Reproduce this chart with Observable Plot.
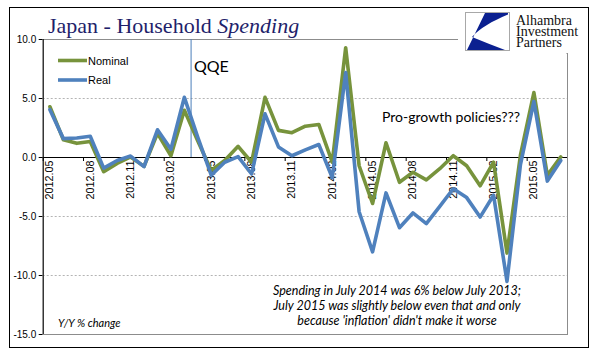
<!DOCTYPE html>
<html><head><meta charset="utf-8">
<script src="https://cdn.jsdelivr.net/npm/d3@7"></script>
<script src="https://cdn.jsdelivr.net/npm/@observablehq/plot@0.6"></script>
<style>
body{margin:0;background:#fff}
#wrap{position:relative;width:596px;height:357px;overflow:hidden;background:#fff}
#chart,#over{position:absolute;left:0;top:0}
#border{position:absolute;left:9px;top:7px;width:578px;height:339px;border:1.5px solid #000;pointer-events:none}
</style></head><body>
<div id="wrap"><div id="chart"></div><svg id="over" width="596" height="357"></svg><div id="border"></div></div>
<script>
const months = ["2012.05","2012.06","2012.07","2012.08","2012.09","2012.10","2012.11","2012.12",
"2013.01","2013.02","2013.03","2013.04","2013.05","2013.06","2013.07","2013.08","2013.09","2013.10","2013.11","2013.12",
"2014.01","2014.02","2014.03","2014.04","2014.05","2014.06","2014.07","2014.08","2014.09","2014.10","2014.11","2014.12",
"2015.01","2015.02","2015.03","2015.04","2015.05","2015.06","2015.07"];
const nominal = [4.3,1.5,1.2,1.35,-1.2,-0.5,0.05,-0.75,2.05,0.15,4.0,1.4,-1.1,-0.25,0.95,-0.4,5.1,2.3,2.1,2.65,
2.8,-0.4,9.3,-0.7,-3.9,1.25,-2.1,-1.25,-1.9,-0.95,0.15,-0.7,-2.4,-0.4,-8.1,0.2,5.5,-1.5,0.05];
const real = [4.05,1.6,1.65,1.8,-0.9,-0.25,0.12,-0.77,2.35,0.7,5.1,1.7,-1.5,-0.4,0.08,-1.4,3.7,0.9,0.15,0.65,
1.1,-1.7,7.2,-4.6,-8.0,-3.0,-5.95,-4.7,-5.6,-4.15,-2.65,-3.4,-5.05,-3.2,-10.5,-0.6,4.75,-2.0,-0.25];
const yTicks = [10,5,0,-5,-10,-15];
const gridLines = [5,-5,-10];
const qqeMonth = "2013.04";
const seriesNames = ["Nominal","Real"];
const colors = {Nominal:"#77933c", Real:"#4f81bd"};

const rows = months.map((m,i)=>({i, m, nominal:nominal[i], real:real[i]}));
const labelIdx = months.map((m,i)=>i).filter(i=>i%3===0);
const qqeAt = months.indexOf(qqeMonth) - 0.5;

const chart = Plot.plot({
  width:596, height:357,
  marginLeft:42.7, marginRight:29, marginTop:39, marginBottom:23,
  x:{type:"linear", domain:[-0.5, months.length-0.5], axis:null},
  y:{domain:[-15,10], ticks:yTicks, tickFormat:d=>d.toFixed(1), tickSize:4, tickPadding:3, label:null},
  style:{fontFamily:"'Liberation Sans', Arial, sans-serif", fontSize:"10px", background:"transparent", color:"#000"},
  marks:[
    Plot.frame({stroke:"#8c8c8c"}),
    Plot.ruleY(gridLines, {stroke:"#b4b4b4", strokeDasharray:"2,2"}),
    Plot.ruleX([qqeAt], {y1:0, y2:10, stroke:"#4a7ebb", strokeWidth:1}),
    Plot.ruleY([0], {stroke:"#000"}),
    Plot.ruleX([-0.5], {stroke:"#000"}),
    Plot.ruleX(labelIdx, {x:d=>d-0.5, y1:0, y2:-0.34, stroke:"#000"}),
    Plot.text(labelIdx, {x:d=>d, y:0, text:d=>months[d], rotate:-90, textAnchor:"end", dy:3, fontSize:10.8, fill:"#000"}),
    Plot.line(rows, {x:"i", y:"nominal", stroke:colors.Nominal, strokeWidth:3.6, strokeLinejoin:"round"}),
    Plot.line(rows, {x:"i", y:"real", stroke:colors.Real, strokeWidth:3.6, strokeLinejoin:"round"})
  ]
});
document.getElementById("chart").appendChild(chart);

const o = d3.select("#over");
const t = o.append("text").attr("x",48).attr("y",33).attr("font-family","'Liberation Serif', 'Times New Roman', serif")
  .attr("font-size",22).attr("fill","#1f1f6b");
t.append("tspan").text("Japan - Household ");
t.append("tspan").attr("font-style","italic").text("Spending");
seriesNames.forEach((s,k)=>{
  const y = 60.5 + k*19.5;
  o.append("line").attr("x1",58).attr("x2",87).attr("y1",y).attr("y2",y).attr("stroke",colors[s]).attr("stroke-width",3.6);
  o.append("text").attr("x",88).attr("y",y+4).attr("font-family","'Liberation Sans', Arial, sans-serif").attr("font-size",11).attr("fill","#000").text(s);
});
o.append("text").attr("x",194).attr("y",71.5).attr("font-family","Lato, 'Open Sans', sans-serif").attr("font-size",16).attr("fill","#000").text("QQE");
o.append("text").attr("x",382).attr("y",121.5).attr("font-family","Lato, 'Open Sans', sans-serif").attr("font-size",14).attr("fill","#000").text("Pro-growth policies???");
o.append("text").attr("x",58).attr("y",327).attr("font-family","Lato, 'Open Sans', sans-serif").attr("font-style","italic").attr("font-size",11).attr("fill","#000").text("Y/Y % change");
const note = o.append("text").attr("text-anchor","middle").attr("font-family","Lato, 'Open Sans', sans-serif")
   .attr("font-style","italic").attr("font-size",12.5).attr("fill","#000");
["Spending in July 2014 was 6% below July 2013;","July 2015 was slightly below even that and only","because 'inflation' didn't make it worse"].forEach((s,k)=>{
  note.append("tspan").attr("x",397).attr("y",295+k*15).text(s);
});
// logo
o.append("rect").attr("x",458).attr("y",10).attr("width",128).attr("height",43).attr("fill","#fff");
o.append("rect").attr("x",465.5).attr("y",12.5).attr("width",44).attr("height",38).attr("fill","#fff").attr("stroke","#a8a8a8");
o.append("path").attr("d","M485,13 L508,13 L508,14.5 C492,21 479,29 472,37 Q489,44 505,50 L467,50 Z").attr("fill","#0b2090");
const logo = o.append("text").attr("font-family","'Liberation Serif', 'Times New Roman', serif").attr("font-size",14).attr("fill","#111");
["Alhambra","Investment","Partners"].forEach((s,k)=>{
  logo.append("tspan").attr("x",516).attr("y",24.7+k*11.3).text(s);
});
o.append("line").attr("x1",567).attr("x2",567).attr("y1",53).attr("y2",54).attr("stroke","#8c8c8c");
</script>
</body></html>
